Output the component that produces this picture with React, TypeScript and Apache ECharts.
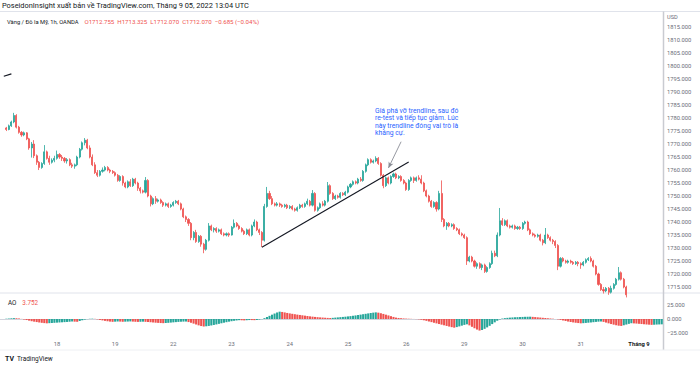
import React, { useEffect, useRef } from "react";
import * as echarts from "echarts";

// ---- data ----
const barCount = 262;
const firstCandleIndex = 2;

// [open, close, low, high]
const candles: number[][] = [
  [1776.2,1775.6,1775.0,1776.6],[1775.6,1777.0,1775.3,1777.5],[1777.0,1778.5,1776.6,1779.0],[1778.5,1781.0,1778.0,1782.0],
  [1781.0,1776.5,1776.0,1781.5],[1776.5,1774.5,1774.0,1777.0],[1774.5,1773.5,1772.8,1775.0],[1773.5,1774.3,1773.0,1774.8],
  [1774.3,1772.0,1771.5,1774.6],[1772.0,1768.5,1767.8,1772.4],[1768.5,1770.0,1764.8,1770.8],[1770.0,1765.5,1764.6,1771.5],
  [1765.5,1763.0,1762.0,1766.0],[1763.0,1761.0,1760.0,1763.5],[1761.0,1762.5,1760.5,1763.0],[1762.5,1767.0,1762.0,1769.6],
  [1767.0,1764.5,1764.0,1767.5],[1764.5,1763.0,1762.0,1765.5],[1763.0,1763.8,1762.5,1764.5],[1763.8,1764.5,1763.0,1765.5],
  [1764.5,1766.0,1764.0,1767.5],[1766.0,1765.0,1764.3,1766.5],[1765.0,1764.5,1763.5,1765.8],[1764.5,1763.5,1762.8,1765.0],
  [1763.5,1764.0,1762.5,1764.6],[1764.0,1762.0,1761.5,1764.5],[1762.0,1761.5,1760.8,1762.8],[1761.5,1762.0,1760.5,1762.5],
  [1762.0,1765.0,1761.5,1765.5],[1765.0,1768.0,1764.5,1768.5],[1768.0,1770.5,1767.5,1771.0],[1770.5,1771.5,1769.5,1772.3],
  [1771.5,1768.5,1768.0,1772.0],[1768.5,1765.0,1764.5,1769.5],[1765.0,1762.0,1761.5,1766.0],[1762.0,1759.0,1758.5,1763.0],
  [1759.0,1758.0,1757.3,1760.0],[1758.0,1759.5,1757.5,1760.0],[1759.5,1760.0,1759.0,1761.0],[1760.0,1761.0,1759.5,1761.6],
  [1761.0,1760.0,1759.5,1761.5],[1760.0,1759.5,1758.8,1760.5],[1759.5,1759.0,1758.5,1760.0],[1759.0,1758.0,1757.5,1759.5],
  [1758.0,1756.0,1755.5,1758.5],[1756.0,1757.5,1755.5,1758.0],[1757.5,1755.0,1754.0,1758.0],[1755.0,1753.5,1753.0,1755.5],
  [1753.5,1755.5,1753.0,1756.0],[1755.5,1754.0,1753.5,1756.5],[1754.0,1756.5,1753.5,1757.0],[1756.5,1755.0,1754.5,1757.0],
  [1755.0,1753.0,1752.0,1755.5],[1753.0,1752.0,1751.0,1753.5],[1752.0,1751.5,1751.0,1752.5],[1751.5,1756.0,1751.0,1757.3],
  [1756.0,1750.0,1749.5,1756.5],[1750.0,1747.0,1746.0,1750.5],[1747.0,1749.0,1746.5,1749.5],[1749.0,1748.0,1747.0,1750.0],
  [1748.0,1748.5,1747.5,1749.0],[1748.5,1747.5,1747.0,1749.0],[1747.5,1746.5,1745.8,1748.0],[1746.5,1747.0,1746.0,1747.5],
  [1747.0,1746.0,1745.4,1747.5],[1746.0,1746.5,1745.5,1747.0],[1746.5,1747.5,1746.0,1748.0],[1747.5,1748.0,1747.0,1748.5],
  [1748.0,1747.0,1746.5,1748.5],[1747.0,1745.0,1744.5,1747.5],[1745.0,1742.0,1741.5,1745.5],[1742.0,1741.0,1740.0,1742.5],
  [1741.0,1739.5,1738.5,1741.5],[1739.5,1734.0,1733.0,1740.0],[1734.0,1736.0,1733.0,1736.5],[1736.0,1732.5,1732.0,1737.0],
  [1732.5,1734.5,1732.0,1735.0],[1734.5,1731.5,1730.5,1735.0],[1731.5,1729.5,1728.0,1732.0],[1729.5,1733.0,1729.0,1733.5],
  [1733.0,1738.5,1732.5,1739.6],[1738.5,1737.0,1736.5,1739.0],[1737.0,1737.5,1736.0,1738.0],[1737.5,1736.5,1735.8,1738.0],
  [1736.5,1737.0,1736.0,1737.5],[1737.0,1735.5,1735.0,1737.5],[1735.5,1735.0,1734.5,1736.0],[1735.0,1735.5,1734.5,1736.0],
  [1735.5,1735.0,1734.3,1736.0],[1735.0,1738.0,1734.8,1738.5],[1738.0,1739.5,1737.5,1741.0],[1739.5,1738.5,1738.0,1740.0],
  [1738.5,1737.5,1737.0,1739.0],[1737.5,1736.5,1736.0,1738.0],[1736.5,1735.5,1735.0,1737.0],[1735.5,1737.0,1735.0,1737.5],
  [1737.0,1735.0,1734.5,1737.5],[1735.0,1738.5,1734.5,1739.0],[1738.5,1740.0,1738.0,1741.0],[1740.0,1737.0,1736.5,1740.5],
  [1737.0,1736.0,1735.0,1737.5],[1736.0,1733.0,1730.4,1736.5],[1733.0,1746.0,1732.5,1747.0],[1746.0,1751.0,1745.5,1753.5],
  [1751.0,1749.0,1748.5,1752.0],[1749.0,1747.0,1746.5,1750.0],[1747.0,1746.5,1746.0,1747.5],[1746.5,1747.0,1746.0,1747.7],
  [1747.0,1746.5,1745.8,1747.5],[1746.5,1746.0,1745.5,1747.0],[1746.0,1746.5,1745.5,1747.0],[1746.5,1745.5,1745.0,1747.0],
  [1745.5,1746.0,1745.0,1746.5],[1746.0,1745.0,1744.5,1746.5],[1745.0,1744.5,1744.0,1745.5],[1744.5,1745.5,1744.0,1746.0],
  [1745.5,1746.5,1745.0,1747.0],[1746.5,1746.0,1745.5,1747.0],[1746.0,1747.0,1745.5,1747.5],[1747.0,1748.0,1746.5,1749.0],
  [1748.0,1746.5,1746.0,1748.5],[1746.5,1751.0,1746.0,1752.3],[1751.0,1744.5,1744.0,1751.5],[1744.5,1745.5,1744.0,1746.0],
  [1745.5,1747.0,1745.0,1747.5],[1747.0,1746.5,1746.0,1748.0],[1746.5,1748.0,1746.0,1748.5],[1748.0,1754.0,1747.5,1755.4],
  [1754.0,1751.0,1750.5,1754.5],[1751.0,1749.0,1748.5,1751.5],[1749.0,1750.0,1748.5,1750.5],[1750.0,1749.5,1749.0,1750.5],
  [1749.5,1751.0,1749.0,1751.5],[1751.0,1750.5,1750.0,1751.5],[1750.5,1751.5,1750.0,1752.0],[1751.5,1753.5,1751.0,1754.0],
  [1753.5,1754.5,1753.0,1755.0],[1754.5,1755.5,1754.0,1756.0],[1755.5,1755.0,1754.5,1756.0],[1755.0,1756.5,1754.5,1757.0],
  [1756.5,1756.0,1755.5,1757.3],[1756.0,1759.5,1755.5,1760.0],[1759.5,1762.0,1759.0,1762.5],[1762.0,1764.0,1761.5,1764.5],
  [1764.0,1763.0,1762.5,1764.5],[1763.0,1763.5,1762.5,1764.0],[1763.5,1764.5,1763.0,1765.3],[1764.5,1762.5,1762.0,1765.0],
  [1762.5,1758.0,1757.5,1763.0],[1758.0,1754.0,1753.0,1758.5],[1754.0,1757.0,1753.5,1757.5],[1757.0,1755.0,1754.5,1757.5],
  [1755.0,1757.5,1754.5,1758.0],[1757.5,1758.5,1757.0,1759.0],[1758.5,1757.0,1756.5,1759.0],[1757.0,1757.5,1756.5,1758.0],
  [1757.5,1756.0,1755.5,1758.0],[1756.0,1755.0,1754.5,1756.5],[1755.0,1752.5,1752.0,1755.5],[1752.5,1756.0,1752.0,1756.5],
  [1756.0,1757.0,1755.5,1757.5],[1757.0,1756.0,1755.0,1757.5],[1756.0,1757.0,1755.5,1757.5],[1757.0,1756.5,1756.0,1758.0],
  [1756.5,1755.0,1754.5,1758.0],[1755.0,1752.0,1751.5,1755.5],[1752.0,1750.0,1749.5,1752.5],[1750.0,1748.0,1747.5,1750.5],
  [1748.0,1746.0,1745.5,1748.5],[1746.0,1747.5,1745.5,1748.0],[1747.5,1745.0,1744.0,1748.0],[1745.0,1751.0,1744.5,1752.0],
  [1751.0,1741.0,1740.0,1756.0],[1741.0,1738.5,1738.0,1741.5],[1738.5,1739.5,1737.0,1740.0],[1739.5,1738.5,1738.0,1740.0],
  [1738.5,1739.0,1738.0,1739.5],[1739.0,1737.5,1737.0,1739.5],[1737.5,1737.0,1736.5,1738.0],[1737.0,1735.5,1735.0,1737.5],
  [1735.5,1735.0,1734.5,1736.0],[1735.0,1734.0,1733.5,1735.5],[1734.0,1725.0,1723.5,1734.5],[1725.0,1726.5,1724.5,1727.0],
  [1726.5,1725.0,1724.5,1727.0],[1725.0,1723.0,1722.5,1725.5],[1723.0,1724.0,1722.0,1724.5],[1724.0,1722.5,1722.0,1724.5],
  [1722.5,1723.5,1721.5,1724.0],[1723.5,1721.0,1720.4,1724.0],[1721.0,1722.5,1720.5,1723.0],[1722.5,1724.0,1722.0,1724.5],
  [1724.0,1728.0,1723.5,1729.0],[1728.0,1727.0,1726.5,1729.0],[1727.0,1735.0,1726.5,1736.0],[1735.0,1740.5,1734.5,1745.4],
  [1740.5,1739.0,1738.5,1741.5],[1739.0,1740.5,1738.5,1741.0],[1740.5,1738.5,1738.0,1741.0],[1738.5,1738.0,1737.5,1739.0],
  [1738.0,1738.5,1737.5,1739.0],[1738.5,1737.5,1737.0,1739.0],[1737.5,1738.0,1737.0,1738.5],[1738.0,1737.5,1737.0,1738.5],
  [1737.5,1739.5,1737.0,1740.0],[1739.5,1740.0,1739.0,1740.5],[1740.0,1737.0,1736.5,1740.5],[1737.0,1735.5,1735.0,1737.5],
  [1735.5,1735.0,1734.5,1736.0],[1735.0,1734.5,1734.0,1735.5],[1734.5,1735.0,1734.0,1735.5],[1735.0,1733.0,1732.5,1735.5],
  [1733.0,1732.0,1731.0,1733.5],[1732.0,1735.0,1731.5,1737.7],[1735.0,1734.0,1733.5,1735.5],[1734.0,1733.0,1732.5,1734.5],
  [1733.0,1732.5,1731.5,1733.5],[1732.5,1731.0,1730.0,1733.0],[1731.0,1723.0,1721.5,1731.5],[1723.0,1726.0,1722.5,1726.5],
  [1726.0,1725.0,1724.5,1726.5],[1725.0,1724.5,1724.0,1725.5],[1724.5,1725.0,1724.0,1725.5],[1725.0,1724.5,1724.0,1725.5],
  [1724.5,1724.0,1723.5,1725.0],[1724.0,1724.5,1723.5,1725.0],[1724.5,1724.0,1723.0,1725.0],[1724.0,1723.5,1722.0,1724.5],
  [1723.5,1724.5,1723.0,1725.0],[1724.5,1725.5,1724.0,1726.0],[1725.5,1726.0,1725.0,1726.5],[1726.0,1725.0,1724.5,1726.8],
  [1725.0,1723.0,1722.5,1725.5],[1723.0,1720.0,1719.5,1723.5],[1720.0,1716.0,1715.5,1720.5],[1716.0,1714.0,1713.5,1716.5],
  [1714.0,1713.5,1712.5,1715.0],[1713.5,1714.5,1713.0,1715.0],[1714.5,1713.0,1712.0,1715.0],[1713.0,1714.5,1712.5,1715.5],
  [1714.5,1716.0,1714.0,1716.5],[1716.0,1718.0,1715.5,1718.5],[1718.0,1720.5,1717.5,1722.7],[1720.5,1718.0,1717.5,1721.0],
  [1718.0,1715.0,1714.5,1718.5],[1715.0,1712.0,1711.0,1715.5],[1712.0,1710.0,1709.0,1712.5],[1710.0,1707.0,1706.0,1710.5],
  [1707.0,1708.0,1705.0,1709.0],[1708.0,1705.0,1703.0,1708.5],[1705.0,1702.0,1700.0,1706.0],[1702.0,1703.0,1700.0,1704.0],
  [1703.0,1700.0,1698.0,1703.5],[1700.0,1697.0,1695.0,1701.0],[1697.0,1699.0,1696.0,1700.0],[1699.0,1696.0,1694.0,1699.5],
  [1696.0,1698.0,1695.0,1699.0],[1698.0,1700.0,1697.0,1701.0],[1700.0,1699.0,1698.0,1701.5],[1699.0,1701.0,1698.0,1702.0],
];

const aoValues: number[] = [
  0.5, 0.8, 1.2, 1.5, 1.3, 0.9,
  0.2, -0.8, -1.8, -2.8, -3.8, -4.6, -5.3, -6.0, -6.6, -7.1, -7.5,
  -7.2, -6.9, -6.6, -6.3, -6.0, -5.7, -5.4, -5.1, -4.7, -4.3,
  -4.6, -4.8,
  -3.5, -2.2, -1.0, -0.2,
  0.4, 0.6, 0.3,
  -0.6, -1.5, -2.4, -3.2, -3.9, -4.5, -4.9,
  -4.6, -4.3, -4.5, -4.8, -4.6, -4.4, -4.2, -4.5, -4.8, -5.0, -4.8, -4.6, -4.9, -5.2,
  -5.6, -6.0, -6.4, -6.7, -7.0, -7.2,
  -6.9, -6.6, -6.2, -5.8, -5.4, -5.0, -4.7, -4.5, -4.4,
  -5.3, -6.5, -8.0, -9.5, -11.0, -12.2, -13.0,
  -12.6, -12.0, -11.2, -10.3, -9.4, -8.4, -7.4, -6.4, -5.5, -4.6, -3.8, -3.1, -2.5, -2.0,
  -2.2, -2.4, -2.1, -1.8, -1.9, -2.0, -1.6, -1.0, -0.3,
  1.5, 3.5, 5.5, 7.5, 9.5, 11.3, 12.7,
  12.2, 11.4, 10.5, 9.7, 9.0, 8.3, 7.6, 7.0, 6.4, 5.8, 5.2, 4.6, 4.1, 3.6, 3.2, 2.8,
  2.5, 2.2, 1.9, 1.7,
  2.0, 2.4, 2.8, 3.2, 3.6, 4.0, 4.5, 5.0, 5.6, 6.2, 6.9, 7.6, 8.3, 9.0, 9.7, 10.4, 11.0, 11.5,
  11.0, 10.0, 8.8, 7.5, 6.2, 4.9, 3.6, 2.4,
  1.8, 1.4, 1.0, 0.7, 0.5, 0.3, 0.1, -0.2, -0.6,
  -1.3, -2.2, -3.2, -4.3, -5.4, -6.5, -7.6, -8.7, -9.8, -10.9, -12.0, -13.1, -14.1, -15.0,
  -14.0, -12.8, -11.5, -10.2, -9.2,
  -11.0, -13.5, -16.0, -18.3, -20.0,
  -19.0, -17.0, -14.5, -11.8, -8.8, -5.8, -3.0, -0.8,
  0.8, 1.5, 2.0, 2.4, 2.7, 3.0, 3.2, 3.4, 3.6, 3.8, 3.9, 4.0,
  3.7, 3.3, 2.9, 2.5, 2.1, 1.7, 1.3, 0.9, 0.5, 0.0, -0.6,
  -1.5, -2.5, -3.5, -4.4, -5.2, -5.9, -6.5, -7.0, -7.5,
  -7.2, -6.8, -6.4, -6.0, -5.5, -5.0, -4.6, -4.3,
  -5.0, -6.2, -7.5, -8.7, -9.8, -10.8, -11.6, -12.0,
  -10.8, -9.6, -8.4, -7.3,
  -7.6, -7.9, -8.3, -8.7, -9.1, -9.5, -9.8, -10.1,
  -9.9, -9.6, -9.4, -9.2,
];

const dayLabels = ["18", "19", "22", "23", "24", "25", "26", "29", "30", "31", "Tháng 9"];
const dayLabelIndex = [22, 45, 68, 91, 114, 137, 160, 183, 206, 229, 252];
const priceTicks = [1715, 1720, 1725, 1730, 1735, 1740, 1745, 1750, 1755, 1760, 1765, 1770, 1775, 1780, 1785, 1790, 1795, 1800, 1805, 1810, 1815];
const aoTicks = [-25, 0, 25];

// drawings (in data coordinates: [bar index, price])
const trendline = [[103, 1730.3], [161, 1763.1]];
const arrowLine = [[158, 1770.9], [153, 1760.8]];
const oldDrawing = [[1, 1796.1], [4, 1797.0]];

const header1 = "PoseidonInsight xuất bản về TradingView.com, Tháng 9 05, 2022 13:04 UTC";
const symbolText = "Vàng / Đô la Mỹ, 1h, OANDA";
const ohlcText = "O1712.755  H1713.325  L1712.070  C1712.070  −0.685 (−0.04%)";
const aoLegendValue = "3.752";
const noteText = "Giá phá vỡ trendline, sau đó\nre-test và tiếp tục giảm. Lúc\nnày trendline đóng vai trò là\nkháng cự.";

const UP = "#26a69a";
const DOWN = "#ef5350";
const FONT = "Roboto, 'Liberation Sans', sans-serif";

export default function App() {
  const ref = useRef<HTMLDivElement>(null);

  useEffect(() => {
    if (!ref.current) return;
    const chart = echarts.init(ref.current, null, { renderer: "svg" });

    const categories = Array.from({ length: barCount }, (_, i) => `b${i}`);
    const labelMap: Record<number, string> = {};
    dayLabelIndex.forEach((idx, k) => (labelMap[idx] = dayLabels[k]));

    const candleData: any[] = [];
    const aoData: any[] = [];
    for (let i = 0; i < barCount; i++) {
      const k = i - firstCandleIndex;
      if (k >= 0 && k < candles.length) candleData.push(candles[k]);
      else candleData.push("-");
      if (k >= 0 && k < aoValues.length) {
        const v = aoValues[k];
        const prev = k > 0 ? aoValues[k - 1] : v;
        aoData.push({ value: v, itemStyle: { color: v >= prev ? UP : DOWN } });
      } else aoData.push("-");
    }

    const fmt = (v: number) => (v < 0 ? "−" + Math.abs(v).toFixed(3) : v.toFixed(3));

    chart.setOption({
      animation: false,
      backgroundColor: "#ffffff",
      textStyle: { fontFamily: FONT },
      grid: [
        { left: 0, right: 37, top: 12, height: 281 },
        { left: 0, right: 37, top: 293, height: 44.5 },
      ],
      xAxis: [
        {
          type: "category",
          gridIndex: 0,
          data: categories,
          axisLine: { show: false },
          axisTick: { show: false },
          axisLabel: { show: false },
          splitLine: { show: false },
        },
        {
          type: "category",
          gridIndex: 1,
          data: categories,
          axisLine: { show: true, lineStyle: { color: "#d1d4dc", width: 1 } },
          axisTick: { show: false },
          axisLabel: {
            show: true,
            interval: (index: number) => labelMap[index] !== undefined,
            formatter: (_v: string, index: number) => {
              const t = labelMap[index] ?? "";
              return t === "Tháng 9" ? `{b|${t}}` : t;
            },
            color: "#6a6d78",
            fontSize: 5.8,
            margin: 3.5,
            rich: { b: { fontWeight: "bold", color: "#131722", fontSize: 5.8 } },
          },
          splitLine: { show: false },
        },
      ],
      yAxis: [
        {
          type: "value",
          gridIndex: 0,
          position: "right",
          min: 1712.7,
          max: 1820.8,
          axisLine: { show: false },
          axisTick: { show: false },
          splitLine: { show: false },
          axisLabel: {
            customValues: priceTicks,
            formatter: (v: number) => fmt(v),
            color: "#6a6d78",
            fontSize: 5.8,
            margin: 4,
          },
        },
        {
          type: "value",
          gridIndex: 1,
          position: "right",
          min: -32,
          max: 45,
          axisLine: { show: false },
          axisTick: { show: false },
          splitLine: { show: false },
          axisLabel: {
            customValues: aoTicks,
            formatter: (v: number) => fmt(v),
            color: "#6a6d78",
            fontSize: 5.8,
            margin: 4,
          },
        },
      ],
      series: [
        {
          type: "candlestick",
          xAxisIndex: 0,
          yAxisIndex: 0,
          data: candleData,
          barWidth: "62%",
          clip: true,
          itemStyle: { color: UP, color0: DOWN, borderColor: UP, borderColor0: DOWN, borderWidth: 0.8 },
          markLine: {
            silent: true,
            animation: false,
            label: { show: false },
            data: [
              [
                { coord: trendline[0], symbol: "none", lineStyle: { color: "#131722", width: 1.1, type: "solid" } },
                { coord: trendline[1], symbol: "none" },
              ],
              [
                { coord: arrowLine[0], symbol: "none", lineStyle: { color: "#8a8d96", width: 0.9, type: "solid" } },
                { coord: arrowLine[1], symbol: "arrow", symbolSize: [4, 6] },
              ],
              [
                { coord: oldDrawing[0], symbol: "none", lineStyle: { color: "#131722", width: 1.2, type: "solid" } },
                { coord: oldDrawing[1], symbol: "none" },
              ],
            ],
          },
        },
        {
          type: "bar",
          xAxisIndex: 1,
          yAxisIndex: 1,
          data: aoData,
          barCategoryGap: "18%",
        },
      ],
      graphic: [
        { type: "line", shape: { x1: 0, y1: 11.5, x2: 700, y2: 11.5 }, style: { stroke: "#e0e3eb", lineWidth: 1 }, silent: true },
        { type: "line", shape: { x1: 0, y1: 293, x2: 700, y2: 293 }, style: { stroke: "#e0e3eb", lineWidth: 1 }, silent: true },
        { type: "line", shape: { x1: 663.5, y1: 11.5, x2: 663.5, y2: 350 }, style: { stroke: "#c9cbd1", lineWidth: 1.5 }, silent: true },
        { type: "line", shape: { x1: 0, y1: 350, x2: 700, y2: 350 }, style: { stroke: "#eef0f3", lineWidth: 1 }, silent: true },
        {
          type: "text",
          left: 2,
          top: 1.5,
          style: { text: header1, fill: "#131722", fontSize: 7.4, fontFamily: FONT },
        },
        {
          type: "text",
          left: 7,
          top: 15.5,
          style: {
            text: `{a|${symbolText}}  {r|${ohlcText}}`,
            fontFamily: FONT,
            rich: {
              a: { fill: "#131722", fontSize: 5.8, fontFamily: FONT },
              r: { fill: "#ef5350", fontSize: 6.1, fontFamily: FONT },
            },
          },
        },
        { type: "text", left: 667, top: 14, style: { text: "USD", fill: "#6a6d78", fontSize: 5.6, fontFamily: FONT } },
        {
          type: "text",
          left: 8,
          top: 297,
          style: {
            text: `{a|AO}  {r|${aoLegendValue}}`,
            fontFamily: FONT,
            rich: {
              a: { fill: "#131722", fontSize: 6.3, fontFamily: FONT },
              r: { fill: "#ef5350", fontSize: 6.3, fontFamily: FONT },
            },
          },
        },
        {
          type: "text",
          left: 375,
          top: 107,
          style: { text: noteText, fill: "#2962ff", fontSize: 6.8, lineHeight: 7.4, fontFamily: FONT },
        },
        {
          type: "text",
          left: 5,
          top: 353,
          style: {
            text: "{l|TV} {t|TradingView}",
            fontFamily: FONT,
            rich: {
              l: { fill: "#131722", fontSize: 7, fontWeight: "bold", fontFamily: FONT },
              t: { fill: "#131722", fontSize: 6.5, fontFamily: FONT },
            },
          },
        },
      ],
    });

    return () => chart.dispose();
  }, []);

  return (
    <div
      ref={ref}
      style={{ position: "absolute", left: 0, top: 0, width: 700, height: 365, background: "#fff" }}
    />
  );
}
